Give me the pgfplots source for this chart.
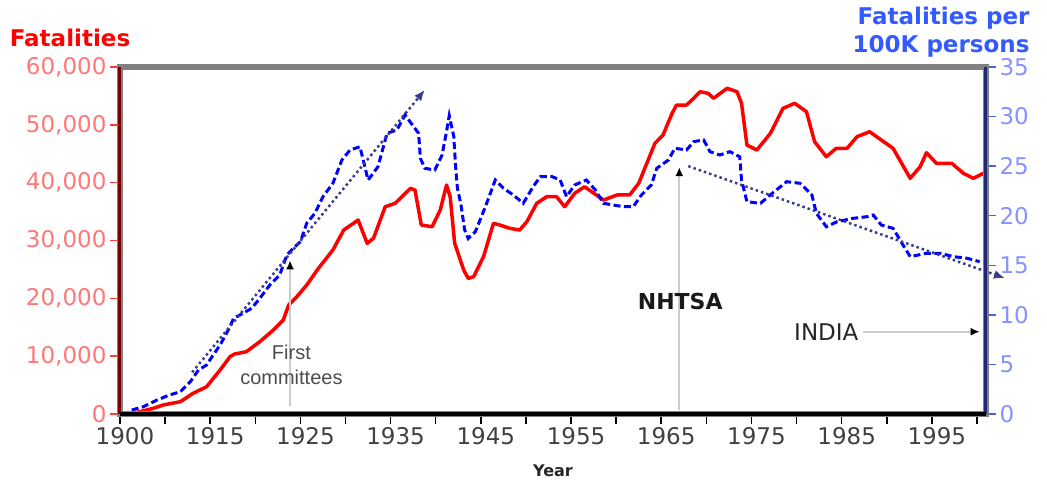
\documentclass[border=0pt]{standalone}
\usepackage{pgfplots}
\pgfplotsset{compat=1.18}
\usepackage{fontspec}
\setmainfont{DejaVu Sans}
\newfontfamily\arialish{Liberation Sans}
\usetikzlibrary{arrows.meta}
\definecolor{redline}{RGB}{255,0,0}
\definecolor{blueline}{RGB}{0,0,255}
\definecolor{ticklabred}{RGB}{255,120,120}
\definecolor{tickred}{RGB}{255,60,60}
\definecolor{ticklabblue}{RGB}{135,145,255}
\definecolor{tickblue}{RGB}{70,100,225}
\definecolor{trend}{RGB}{60,60,140}
\definecolor{frame}{RGB}{128,128,128}
\definecolor{darkred}{RGB}{120,0,0}
\definecolor{navy}{RGB}{30,40,120}
\definecolor{titleblue}{RGB}{50,90,255}
\definecolor{annogray}{RGB}{205,205,205}
\begin{document}
\begin{tikzpicture}
\useasboundingbox (-120pt,-69pt) rectangle (927pt,414pt);
\begin{axis}[
  at={(0pt,0pt)}, anchor=south west,
  width=866pt, height=347pt, scale only axis,
  xmin=1905, xmax=2001, ymin=0, ymax=60000,
  axis line style={draw=none},
  tick align=outside, major tick length=10pt,
  scaled y ticks=false, scaled x ticks=false,
  xtick={1905,1910,...,2000},
  xticklabels={1900,,1915,,1925,,1935,,1945,,1955,,1965,,1975,,1985,,1995,},
  xtick pos=left, ytick pos=left,
  ytick={0,10000,...,60000},
  yticklabels={0,{10,000},{20,000},{30,000},{40,000},{50,000},{60,000}},
  x tick style={black, line width=1.5pt},
  y tick style={tickred, line width=1.5pt},
  xticklabel style={font=\fontsize{23}{27}\selectfont, text=black!75, xshift=5pt},
  yticklabel style={font=\fontsize{23}{27}\selectfont, text=ticklabred},
  /pgf/number format/assume math mode=true,
]
\addplot[redline, line width=3.5pt, line join=round, no markers] coordinates {
(1906.3,120) (1907.2,400) (1908.7,990) (1909.8,1560) (1911.7,2130) (1913.1,3580)
(1914.6,4720) (1916.1,7610) (1917.2,9910) (1917.7,10370) (1919.0,10770) (1920.5,12500)
(1922.0,14520) (1923.1,16250) (1923.7,18850) (1924.6,20280) (1925.7,22300) (1927.0,25190)
(1928.6,28360) (1929.8,31810) (1931.4,33540) (1932.4,29510) (1933.1,30380) (1934.4,35840)
(1935.5,36430) (1937.2,39020) (1937.7,38730) (1938.4,32680) (1939.6,32380) (1940.5,35270)
(1941.2,39590) (1941.6,37570) (1942.1,29510) (1943.1,24900) (1943.6,23460) (1944.2,23740)
(1945.3,27200) (1946.4,32970) (1947.1,32680) (1948.2,32110) (1949.3,31810) (1950.1,33250)
(1951.2,36430) (1952.3,37570) (1953.4,37570) (1954.3,35840) (1955.4,38160) (1956.5,39300)
(1957.8,37870) (1958.6,37000) (1960.1,37870) (1961.5,37870) (1962.5,39890) (1963.4,43350)
(1964.3,46800) (1965.2,48240) (1966.2,51990) (1966.7,53430) (1967.8,53430) (1968.6,54590)
(1969.3,55730) (1970.2,55450) (1970.8,54590) (1972.3,56310) (1973.4,55730) (1973.9,53720)
(1974.5,46510) (1975.6,45650) (1977.1,48530) (1978.5,52860) (1979.8,53720) (1981.1,52270)
(1982.0,47080) (1983.3,44490) (1984.4,45940) (1985.6,45940) (1986.7,47950) (1988.1,48810)
(1989.4,47370) (1990.7,45940) (1992.6,40750) (1993.7,42760) (1994.4,45180) (1995.5,43350)
(1997.2,43350) (1998.5,41620) (1999.6,40750) (2000.7,41620)
};
\end{axis}
\begin{axis}[
  at={(0pt,0pt)}, anchor=south west,
  width=866pt, height=347pt, scale only axis,
  xmin=1905, xmax=2001, ymin=0, ymax=35,
  axis line style={draw=none},
  tick align=outside, major tick length=10pt,
  xtick=\empty,
  ytick={0,5,...,35},
  ytick pos=right, yticklabel pos=right,
  y tick style={tickblue, line width=1.5pt},
  yticklabel style={font=\fontsize{23}{27}\selectfont, text=ticklabblue},
  /pgf/number format/assume math mode=true,
  clip=false,
]
\addplot[blueline, line width=3pt, dash pattern=on 7pt off 3.5pt, no markers] coordinates {
(1906.3,0.40) (1907.6,0.74) (1909.1,1.41) (1910.5,1.92) (1911.7,2.25) (1912.8,3.26)
(1913.7,4.44) (1914.6,4.94) (1915.2,5.78) (1916.1,6.96) (1917.0,8.47) (1917.6,9.65)
(1918.3,9.99) (1919.6,10.66) (1920.5,11.67) (1921.6,13.01) (1922.7,14.02) (1923.5,16.04)
(1924.2,16.71) (1925.0,17.38) (1925.7,19.24) (1926.6,20.24) (1927.5,21.92) (1928.6,23.27)
(1929.6,25.62) (1930.5,26.63) (1931.6,26.96) (1932.5,23.60) (1933.6,24.94) (1934.6,28.31)
(1935.7,28.65) (1936.6,30.16) (1938.1,28.31) (1938.3,25.79) (1938.8,24.78) (1939.9,24.61)
(1940.7,26.12) (1941.2,28.5) (1941.5,30.1) (1942.0,28.0) (1942.2,25.0) (1942.4,22.8)
(1942.8,21.1) (1943.2,18.6) (1943.6,17.7) (1944.4,18.4) (1945.5,20.9) (1946.6,23.6)
(1947.5,22.77) (1948.6,22.09) (1949.7,21.25) (1950.8,22.93) (1951.6,23.94) (1952.9,23.94)
(1953.8,23.60) (1954.5,21.92) (1955.4,23.10) (1956.7,23.60) (1957.7,22.59) (1958.6,21.25)
(1959.7,21.08) (1960.8,20.91) (1961.9,20.91) (1962.8,22.09) (1963.9,23.10) (1964.5,24.78)
(1965.8,25.62) (1966.5,26.80) (1967.8,26.63) (1968.6,27.47) (1969.7,27.64) (1970.4,26.46)
(1971.5,26.12) (1972.6,26.46) (1973.7,25.95) (1973.9,23.60) (1974.5,21.41) (1976.0,21.25)
(1977.3,22.26) (1978.0,22.77) (1978.9,23.43) (1980.4,23.27) (1981.7,22.09) (1982.2,20.24)
(1983.3,18.89) (1984.5,19.40) (1986.3,19.74) (1987.8,19.90) (1988.5,20.07) (1989.4,19.06)
(1990.7,18.73) (1991.8,17.05) (1992.6,15.87) (1994.4,16.21) (1995.9,16.21) (1997.4,15.87)
(1998.9,15.71) (2000.3,15.36)
};
% trend lines
\addplot[trend, line width=2.5pt, dash pattern=on 2.5pt off 3pt, -{Latex[length=11pt,width=9pt,fill=trend]}, no markers] coordinates {(1913.0,4.2) (1938.8,32.7)};
\addplot[trend, line width=2.5pt, dash pattern=on 2.5pt off 3pt, -{Latex[length=11pt,width=9pt,fill=trend]}, no markers] coordinates {(1968.0,25.0) (2003.1,13.7)};
% annotations
\draw[annogray, line width=2pt, -{Latex[length=9pt,width=8pt,fill=black,color=black]}] (axis cs:1923.85,0.8) -- (axis cs:1923.85,15.5);
\node[text=black!70, align=center, font=\arialish\fontsize{20}{25}\selectfont] at (axis cs:1924.0,5.0) {First\\committees};
\draw[annogray, line width=2pt, -{Latex[length=9pt,width=8pt,fill=black,color=black]}] (axis cs:1967.0,0.4) -- (axis cs:1967.0,24.9);
\node[text=black!90, font=\bfseries\fontsize{22}{26}\selectfont] at (axis cs:1967.1,11.3) {NHTSA};
\draw[annogray, line width=2pt, -{Latex[length=9pt,width=8pt,fill=black,color=black]}] (axis cs:1987.4,8.3) -- (axis cs:2000.3,8.3);
\node[text=black!85, font=\fontsize{23}{27}\selectfont] at (axis cs:1983.3,8.3) {INDIA};
% frame
\draw[frame, line width=6pt] (rel axis cs:0,0) rectangle (rel axis cs:1,1);
\draw[darkred, line width=3pt] (rel axis cs:0,0) -- (rel axis cs:0,1);
\draw[navy, line width=3pt] (rel axis cs:1,0) -- (rel axis cs:1,1);
\draw[black, line width=3.5pt] (rel axis cs:0,0) -- (rel axis cs:1,0);
\end{axis}
\node[text=red, font=\bfseries\fontsize{23}{27}\selectfont] at (-50pt,376pt) {Fatalities};
\node[text=titleblue, font=\bfseries\fontsize{23}{27}\selectfont, anchor=east] at (913pt,396pt) {Fatalities per};
\node[text=titleblue, font=\bfseries\fontsize{23}{27}\selectfont, anchor=east] at (913pt,368pt) {100K persons};
\node[text=black!85, font=\bfseries\fontsize{16}{19}\selectfont] at (433pt,-57pt) {Year};
\end{tikzpicture}
\end{document}
